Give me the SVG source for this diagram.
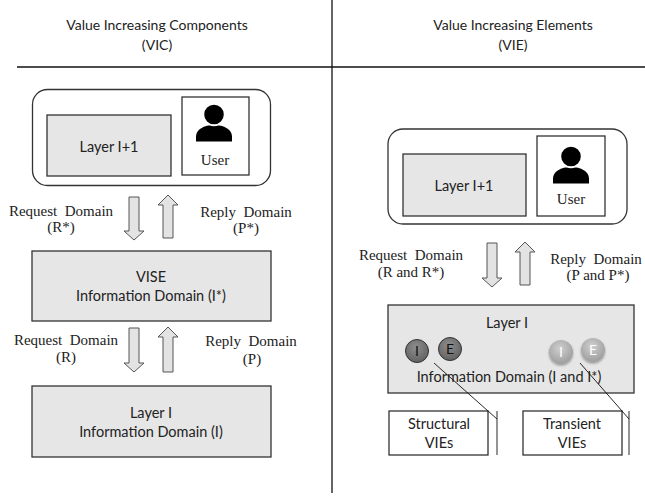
<svg xmlns="http://www.w3.org/2000/svg" xmlns:xlink="http://www.w3.org/1999/xlink" width="645" height="496" viewBox="0 0 645 496">
<style>
.sans{font-family:Lato,"Open Sans","Liberation Sans",sans-serif;fill:#222;text-anchor:middle}
.serif{font-family:"Liberation Serif","Times New Roman",serif;font-size:15px;fill:#222;text-anchor:middle;white-space:pre}
.title{font-size:14px}
.bx{font-size:14.5px}
.gray{fill:#e6e6e6;stroke:#333;stroke-width:1.3}
.white{fill:#fff;stroke:#333;stroke-width:1.3}
.outer{fill:#fff;stroke:#333;stroke-width:1.3}
.rule{stroke:#111;stroke-width:1.3;fill:none}
.arrow{fill:#e3e3e3;stroke:#555;stroke-width:1}
.lead{stroke:#111;stroke-width:0.9;fill:none}
.dk{fill:url(#gdark);stroke:#333;stroke-width:1}
.lt{fill:url(#glight)}
.ctxt{font-family:Lato,"Open Sans","Liberation Sans",sans-serif;font-size:14px;text-anchor:middle}
</style>
<defs>
<radialGradient id="gdark" cx="0.45" cy="0.35" r="0.7">
<stop offset="0" stop-color="#8e8e8e"/>
<stop offset="1" stop-color="#5e5e5e"/>
</radialGradient>
<radialGradient id="glight" cx="0.45" cy="0.35" r="0.7">
<stop offset="0" stop-color="#cfcfcf"/>
<stop offset="1" stop-color="#9a9a9a"/>
</radialGradient>
<filter id="sh" x="-30%" y="-30%" width="160%" height="170%">
<feDropShadow dx="0" dy="1.5" stdDeviation="1.2" flood-color="#000" flood-opacity="0.35"/>
</filter>
<g id="user">
<path d="M-18,27 L-18,22 C-18,15 -10,10.5 0,10.5 C10,10.5 18,15 18,22 L18,27 Z" fill="#000"/>
<circle cx="0" cy="0" r="10.8" fill="#000" stroke="#fff" stroke-width="2"/>
</g>
</defs>
<rect width="645" height="496" fill="#fff"/>

<g id="frame">
<line class="rule" x1="17" y1="67" x2="645" y2="67"/>
<line class="rule" x1="332" y1="0" x2="332" y2="493"/>
<text class="sans title" x="157" y="30">Value Increasing Components</text>
<text class="sans title" x="157" y="50">(VIC)</text>
<text class="sans title" x="513" y="30">Value Increasing Elements</text>
<text class="sans title" x="513" y="50">(VIE)</text>
</g>

<g id="left-top-group">
<rect class="outer" x="32.5" y="89.5" width="238" height="96" rx="15"/>
</g>
<g id="left-layer-i1">
<rect class="gray" x="47" y="115" width="124" height="61"/>
<text class="sans bx" x="109" y="152">Layer I+1</text>
</g>
<g id="left-user">
<rect class="white" x="182" y="97" width="67" height="78"/>
<use xlink:href="#user" x="214" y="114.5"/>
<text class="serif" x="215" y="165">User</text>
</g>
<g id="left-vise">
<rect class="gray" x="32" y="251" width="239" height="70"/>
<text class="sans bx" x="151" y="282">VISE</text>
<text class="sans bx" x="151" y="301">Information Domain (I*)</text>
</g>
<g id="left-layer-i">
<rect class="gray" x="32" y="386" width="239" height="71"/>
<text class="sans bx" x="151" y="418">Layer I</text>
<text class="sans bx" x="151" y="437">Information Domain (I)</text>
</g>

<g id="right-top-group">
<rect class="outer" x="388" y="129" width="239" height="95" rx="15"/>
</g>
<g id="right-layer-i1">
<rect class="gray" x="403" y="154" width="123" height="62"/>
<text class="sans bx" x="464" y="191">Layer I+1</text>
</g>
<g id="right-user">
<rect class="white" x="537" y="136" width="68" height="80"/>
<use xlink:href="#user" x="571" y="156.5"/>
<text class="serif" x="571" y="204">User</text>
</g>
<g id="right-layer-i">
<rect class="gray" x="388" y="305" width="246" height="88"/>
<text class="sans bx" x="507" y="328">Layer I</text>
<text class="sans bx" x="509" y="382">Information Domain (I and I*)</text>
<circle class="dk" cx="417" cy="351" r="11.5"/>
<text class="ctxt" x="417" y="356" fill="#111">I</text>
<circle class="dk" cx="450" cy="349" r="11.5"/>
<text class="ctxt" x="450" y="354" fill="#111">E</text>
<circle class="lt" cx="561" cy="352" r="12" filter="url(#sh)"/>
<text class="ctxt" x="561" y="357" fill="#fff">I</text>
<circle class="lt" cx="593" cy="350" r="12" filter="url(#sh)"/>
<text class="ctxt" x="593" y="355" fill="#fff">E</text>
</g>
<g id="structural-vies">
<rect class="white" x="389" y="411" width="99" height="44"/>
<text class="sans bx" x="439" y="429">Structural</text>
<text class="sans bx" x="439" y="448">VIEs</text>
</g>
<g id="transient-vies">
<rect class="white" x="523" y="411" width="99" height="44"/>
<text class="sans bx" x="572" y="429">Transient</text>
<text class="sans bx" x="572" y="448">VIEs</text>
</g>

<g id="connectors">
<polygon class="arrow" points="129,197 139,197 139,231 144,231 134,240 124,231 129,231"/>
<polygon class="arrow" points="168,195 178,205 173,205 173,238 163,238 163,205 158,205"/>
<polygon class="arrow" points="129,328 139,328 139,363 144,363 134,372 124,363 129,363"/>
<polygon class="arrow" points="168,327 178,337 173,337 173,372 163,372 163,337 158,337"/>
<polygon class="arrow" points="487,243 497,243 497,278 502,278 492,287 482,278 487,278"/>
<polygon class="arrow" points="525,242 535,252 530,252 530,285 520,285 520,252 515,252"/>
<polyline class="lead" points="434,363 497,419"/>
<line class="lead" x1="497" y1="411" x2="497" y2="455"/>
<polyline class="lead" points="580,363 629,419"/>
<line class="lead" x1="629" y1="411" x2="629" y2="455"/>
</g>

<g id="labels">
<text class="serif" x="61" y="216">Request  Domain</text>
<text class="serif" x="61" y="232">(R*)</text>
<text class="serif" x="246" y="217">Reply  Domain</text>
<text class="serif" x="246" y="233">(P*)</text>
<text class="serif" x="66" y="345">Request  Domain</text>
<text class="serif" x="66" y="362">(R)</text>
<text class="serif" x="251" y="346">Reply  Domain</text>
<text class="serif" x="252" y="364">(P)</text>
<text class="serif" x="411" y="260">Request  Domain</text>
<text class="serif" x="411" y="277">(R and R*)</text>
<text class="serif" x="596" y="264">Reply  Domain</text>
<text class="serif" x="598" y="280">(P and P*)</text>
</g>
</svg>
